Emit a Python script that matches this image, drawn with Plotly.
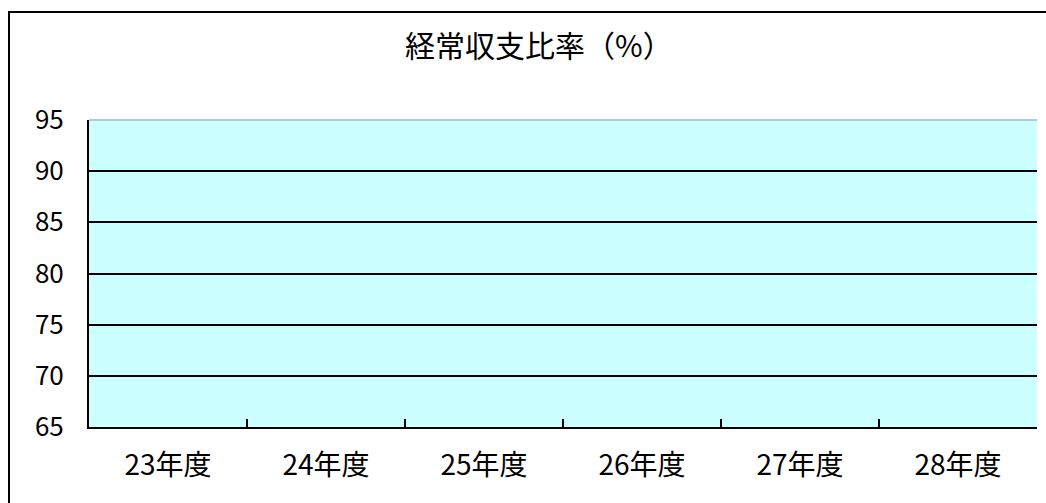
import plotly.graph_objects as go

categories = ["23年度", "24年度", "25年度", "26年度", "27年度", "28年度"]
values = [None, None, None, None, None, None]
y_ticks = [65, 70, 75, 80, 85, 90, 95]
title_text = "経常収支比率（%）"

FONT = "Noto Sans CJK JP"

fig = go.Figure()
fig.add_trace(go.Bar(x=categories, y=values, marker_color="#3366CC", showlegend=False))

fig.update_layout(
    width=1046, height=503,
    margin=dict(l=89, r=9, t=120, b=76, autoexpand=False),
    paper_bgcolor="white",
    plot_bgcolor="#CCFFFF",
    font=dict(family=FONT, color="black"),
    title=dict(text=title_text, x=(405 - 89) / 948, xref="paper", xanchor="left",
               y=(503 - 46) / 503, yanchor="middle", yref="container",
               font=dict(size=30, family=FONT, color="black")),
    showlegend=False,
)

fig.update_xaxes(
    type="category", categoryorder="array", categoryarray=categories,
    showline=True, linecolor="black", linewidth=2,
    ticks="inside", tickson="boundaries", ticklen=8, tickwidth=2, tickcolor="black",
    showgrid=False, tickfont=dict(size=28, family=FONT), ticklabelstandoff=12,
    fixedrange=True,
)
fig.update_yaxes(
    range=[65, 95], tickmode="array", tickvals=y_ticks,
    ticktext=[str(v) for v in y_ticks],
    showline=True, linecolor="black", linewidth=2,
    ticks="inside", ticklen=8, tickwidth=2, tickcolor="black",
    showgrid=True, gridcolor="black", gridwidth=2, zeroline=False,
    tickfont=dict(size=26, family=FONT), ticklabelstandoff=18,
    fixedrange=True,
)

# light top border of the plot area
fig.add_shape(type="line", xref="paper", yref="paper", x0=0, x1=1, y0=1, y1=1,
              line=dict(color="#A8D0D0", width=2))

# outer chart border
x0p = (9 - 89) / 948
y1p = (427 - 12) / 307
fig.add_shape(type="rect", xref="paper", yref="paper",
              x0=x0p, x1=(1052 - 89) / 948, y0=(427 - 510) / 307, y1=y1p,
              line=dict(color="black", width=2), fillcolor="rgba(0,0,0,0)", layer="below")

fig.write_html("out.html")
